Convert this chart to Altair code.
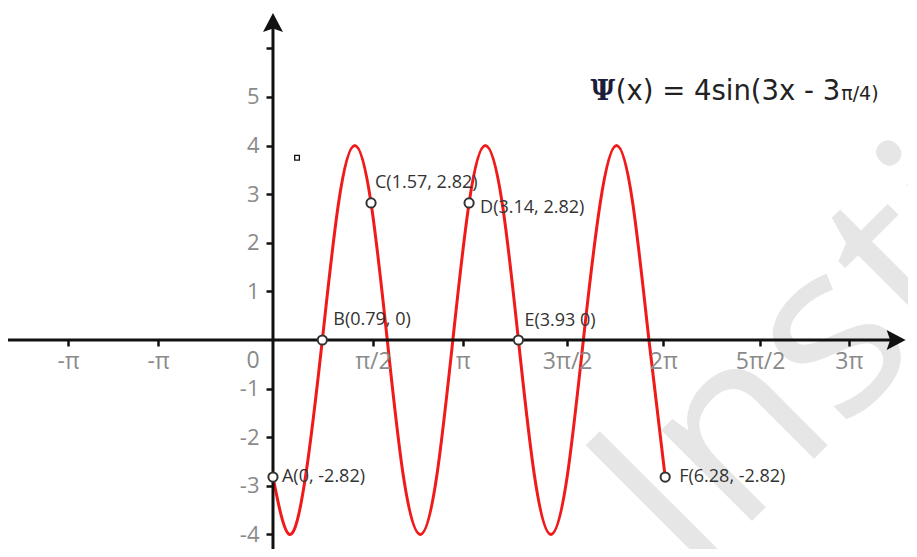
import altair as alt
import pandas as pd

# ---- data ----
curve_x = [0, 0.26, 0.52, 0.79, 1.05, 1.31, 1.57, 1.83, 2.09, 2.36, 2.62, 2.88, 3.14,
           3.40, 3.67, 3.93, 4.19, 4.45, 4.71, 4.97, 5.24, 5.50, 5.76, 6.02, 6.28]
curve_y = [-2.82, -4, -2.82, 0, 2.82, 4, 2.82, 0, -2.82, -4, -2.82, 0, 2.82,
           4, 2.82, 0, -2.82, -4, -2.82, 0, 2.82, 4, 2.82, 0, -2.82]

point_labels = ["A(0, -2.82)", "B(0.79, 0)", "C(1.57, 2.82)", "D(3.14, 2.82)", "E(3.93 0)", "F(6.28, -2.82)"]
point_x = [0, 0.79, 1.57, 3.14, 3.93, 6.28]
point_y = [-2.82, 0, 2.82, 2.82, 0, -2.82]
label_dx = [9, 11, 4, 11, 6, 14]
label_dy = [0, -20, -20, 5, -19, 0]

x_tick_values = [-3.28, -1.84, 1.60, 3.04, 4.71, 6.25, 7.80, 9.22]
x_tick_labels = ["-π", "-π", "π/2", "π", "3π/2", "2π", "5π/2", "3π"]
y_tick_values = [-4, -3, -2, -1, 1, 2, 3, 4, 5, 6]
y_tick_labels = ["-4", "-3", "-2", "-1", "1", "2", "3", "4", "5", ""]

x_domain = [-4.243, 10.168]
y_domain = [-4.30, 6.831]
x_axis_end = 9.97
y_axis_end = 6.52

W, H = 900, 541
ORIGIN_PX = (265, 332)

def label_expr(values, labels):
    parts = [f"abs(datum.value - ({v})) < 0.001 ? '{l}'" for v, l in zip(values, labels)]
    return " : ".join(parts) + " : ''"

xs = alt.Scale(domain=x_domain, nice=False, zero=False)
ys = alt.Scale(domain=y_domain, nice=False, zero=False)

GRAY = "#8a8a8a"

x_axis = alt.Axis(values=x_tick_values, labelExpr=label_expr(x_tick_values, x_tick_labels),
                  orient="bottom", offset=-(H - ORIGIN_PX[1]), domain=False, grid=False,
                  tickSize=6, tickWidth=2.5, tickColor="#111", labelFont="Open Sans",
                  labelFontSize=23, labelColor=GRAY, labelPadding=4, title=None,
                  zindex=1, labelFlush=False, labelOverlap=False)
y_axis = alt.Axis(values=y_tick_values, labelExpr=label_expr(y_tick_values, y_tick_labels),
                  orient="left", offset=-ORIGIN_PX[0], domain=False, grid=False,
                  tickSize=7, tickWidth=2.5, tickColor="#111", labelFont="Open Sans",
                  labelFontSize=22, labelColor=GRAY, labelPadding=7, title=None,
                  zindex=1, labelFlush=False, labelOverlap=False, labelBaseline="middle")

def X(field="x"):
    return alt.X(f"{field}:Q", scale=xs, axis=x_axis, title=None)

def Y(field="y"):
    return alt.Y(f"{field}:Q", scale=ys, axis=y_axis, title=None)

curve_df = pd.DataFrame({"x": curve_x, "y": curve_y})
pts_df = pd.DataFrame({"x": point_x, "y": point_y, "label": point_labels})

# watermark
wm = alt.Chart(pd.DataFrame({"x": [6.68], "y": [-5.0], "t": ["Institute"]})).mark_text(
    font="Open Sans", fontSize=240, color="#e6e6e6", angle=315, align="left",
    baseline="alphabetic", clip=True
).encode(x=X(), y=Y(), text="t:N")

# axis lines
xline = alt.Chart(pd.DataFrame({"x": [x_domain[0]], "x2": [x_axis_end], "y": [0]})).mark_rule(
    color="#111", strokeWidth=3).encode(x=X(), x2="x2:Q", y=Y())
yline = alt.Chart(pd.DataFrame({"x": [0], "y": [y_domain[0]], "y2": [y_axis_end]})).mark_rule(
    color="#111", strokeWidth=3).encode(x=X(), y=Y(), y2="y2:Q")

arrow_up = alt.Chart(pd.DataFrame({"x": [0], "y": [y_axis_end]})).mark_point(
    shape="M0,-1 L1,0.9 L0,0.55 L-1,0.9 Z", size=400, filled=True, color="#111", opacity=1
).encode(x=X(), y=Y())
arrow_right = alt.Chart(pd.DataFrame({"x": [x_axis_end], "y": [0]})).mark_point(
    shape="M1,0 L-0.9,1 L-0.55,0 L-0.9,-1 Z", size=400, filled=True, color="#111", opacity=1
).encode(x=X(), y=Y())

curve = alt.Chart(curve_df).mark_line(interpolate="natural", color="#f01a1a", strokeWidth=3).encode(
    x=X(), y=Y(), order="x:Q")

pts = alt.Chart(pts_df).mark_point(shape="circle", size=85, filled=True, fill="white",
                                    stroke="#333", strokeWidth=2, opacity=1).encode(x=X(), y=Y())

label_layers = []
for lab, px, py, dx, dy in zip(point_labels, point_x, point_y, label_dx, label_dy):
    label_layers.append(
        alt.Chart(pd.DataFrame({"x": [px], "y": [py], "t": [lab]})).mark_text(
            font="Open Sans", fontSize=18, color="#333", align="left", baseline="middle",
            dx=dx, dy=dy
        ).encode(x=X(), y=Y(), text="t:N")
    )

zero_lbl = alt.Chart(pd.DataFrame({"x": [0], "y": [0], "t": ["0"]})).mark_text(
    font="Open Sans", fontSize=23, color=GRAY, align="center", baseline="middle", dx=-20, dy=21
).encode(x=X(), y=Y(), text="t:N")

small_sq = alt.Chart(pd.DataFrame({"x": [0.385], "y": [3.75]})).mark_point(
    shape="square", size=22, filled=False, color="#111", strokeWidth=1.3, opacity=1
).encode(x=X(), y=Y())

title_df = pd.DataFrame({"x": [5.0], "y": [4.94]})
t_psi = alt.Chart(title_df).mark_text(font="DejaVu Serif", fontWeight="bold", fontSize=27,
                                      color="#1c1c3c", align="right", baseline="alphabetic", dx=30
                                      ).encode(x=X(), y=Y(), text=alt.value("Ψ"))
t_main = alt.Chart(title_df).mark_text(font="DejaVu Sans", fontSize=27.5, color="#222",
                                       align="right", baseline="alphabetic", dx=255
                                       ).encode(x=X(), y=Y(), text=alt.value("(x) = 4sin(3x - 3"))
t_tail = alt.Chart(title_df).mark_text(font="DejaVu Sans", fontSize=19, color="#222",
                                       align="left", baseline="alphabetic", dx=256
                                       ).encode(x=X(), y=Y(), text=alt.value("π/4)"))

chart = alt.layer(
    curve, wm, xline, yline, arrow_up, arrow_right, pts, *label_layers, zero_lbl, small_sq,
    t_psi, t_main, t_tail
).properties(width=W, height=H, padding=0, autosize=alt.AutoSizeParams(type="none"),
             background="white").configure_view(stroke=None)

chart.save("out.html", embed_options={"renderer": "svg", "actions": False})
